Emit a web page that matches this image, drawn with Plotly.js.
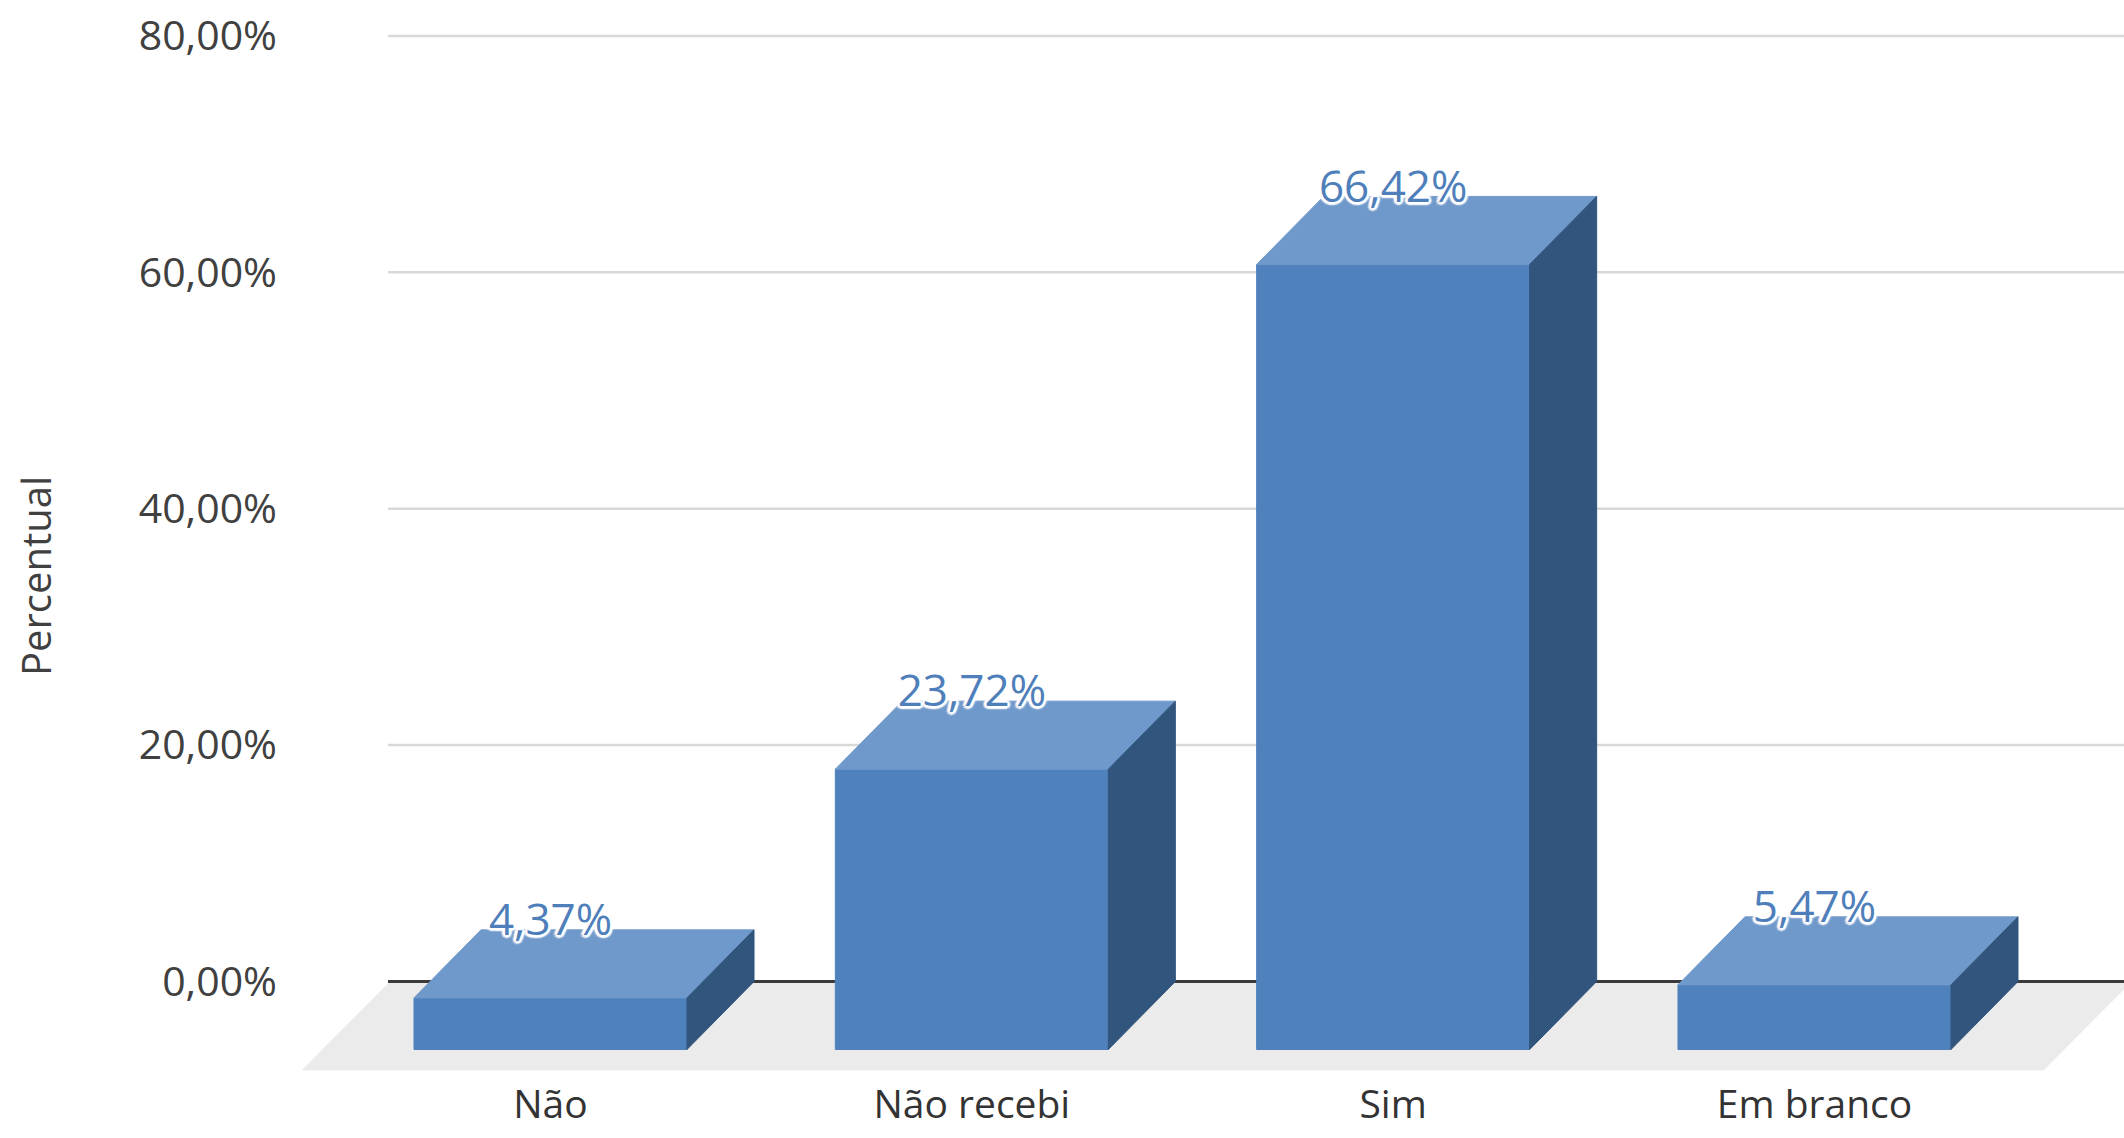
<!DOCTYPE html>
<html>
<head>
<meta charset="utf-8">
<script src="https://cdn.plot.ly/plotly-3.0.1.min.js"></script>
<style>html,body{margin:0;padding:0;background:#fff;}#chart{width:2124px;height:1138px;}</style>
</head>
<body>
<div id="chart"></div>
<script>
// ---- data ----
const categories = ['Não', 'Não recebi', 'Sim', 'Em branco'];
const values = [4.37, 23.72, 66.42, 5.47];
const yTickVals = [0, 20, 40, 60, 80];
const yTickText = ['0,00%', '20,00%', '40,00%', '60,00%', '80,00%'];
const yAxisTitle = 'Percentual';

// ---- geometry (pixels of the 2124x1138 page) ----
const W = 2124, H = 1138;
const M = {l: 300, r: 0, t: 20, b: 63};
const plotW = W - M.l - M.r, plotH = H - M.t - M.b;
const firstCenterPx = 550.5, spacingPx = 421.33;
const zeroPx = 981.5, pxPerUnit = 11.82;
const xr = [(M.l - firstCenterPx) / spacingPx, (W - M.r - firstCenterPx) / spacingPx];
const yr = [-(H - M.b - zeroPx) / pxPerUnit, (zeroPx - M.t) / pxPerUnit];
const dxPx = 67, dyPx = 68;           // bar depth
const barWpx = 273;
const floorDepthPx = 88, floorFrontPx = 1070, floorLeftPx = 248, floorRightPx = 229, gridStartPx = 388;
const DX = dxPx / spacingPx, DY = dyPx / pxPerUnit, HW = barWpx / spacingPx / 2;
const pxToY = py => (zeroPx - py) / pxPerUnit;

const colFront = '#4F81BD', colTop = '#7099CB', colSide = '#32557D';
const fontFam = '"Open Sans", "Noto Sans", sans-serif';

const traces = [];
function poly(xs, ys, color) {
  traces.push({type: 'scatter', mode: 'lines', x: xs.concat([xs[0]]), y: ys.concat([ys[0]]),
    fill: 'toself', fillcolor: color, line: {color: color, width: 1}, hoverinfo: 'skip', showlegend: false});
}

// floor
const n = categories.length;
const fy = pxToY(floorFrontPx);
const fl = -floorLeftPx / spacingPx, fr = (n - 1) + floorRightPx / spacingPx;
const fdx = floorDepthPx / spacingPx;
poly([fl, fr, fr + fdx, fl + fdx], [fy, fy, 0, 0], '#EBEBEB');

// gridlines
const gx0 = (gridStartPx - firstCenterPx) / spacingPx, gx1 = xr[1] + 0.2;
yTickVals.forEach(v => {
  traces.push({type: 'scatter', mode: 'lines', x: [gx0, gx1], y: [v, v],
    line: {color: v === 0 ? '#3a3a3a' : '#D9D9D9', width: v === 0 ? 3 : 2.5},
    hoverinfo: 'skip', showlegend: false});
});

// bars
values.forEach((v, i) => {
  const x0 = i - HW, x1 = i + HW;
  poly([x0, x1, x1, x0], [-DY, -DY, v - DY, v - DY], colFront);
  poly([x0, x1, x1 + DX, x0 + DX], [v - DY, v - DY, v, v], colTop);
  poly([x1, x1 + DX, x1 + DX, x1], [-DY, 0, v, v - DY], colSide);
});

// data labels
const sh = [];
[[3,0],[-3,0],[0,3],[0,-3],[2.2,2.2],[-2.2,-2.2],[2.2,-2.2],[-2.2,2.2]].forEach(p => sh.push(p[0] + 'px ' + p[1] + 'px 1.5px #ffffff'));
traces.push({type: 'scatter', mode: 'text',
  x: categories.map((c, i) => i), y: values.map(v => v + 0.5),
  text: values.map(v => v.toFixed(2).replace('.', ',') + '%'),
  textposition: 'middle center',
  textfont: {family: fontFam, size: 44, color: '#4F7FBA', shadow: sh.join(', ')},
  hoverinfo: 'skip', showlegend: false, cliponaxis: false});

const layout = {
  width: W, height: H,
  margin: M,
  paper_bgcolor: '#ffffff', plot_bgcolor: 'rgba(0,0,0,0)',
  showlegend: false,
  font: {family: fontFam, size: 41, color: '#404040'},
  xaxis: {range: xr, showgrid: false, zeroline: false, showline: false, ticks: '',
    tickvals: categories.map((c, i) => i), ticktext: categories,
    tickfont: {family: fontFam, size: 39, color: '#333333'}, ticklabelstandoff: 3, fixedrange: true},
  yaxis: {range: yr, showgrid: false, zeroline: false, showline: false, ticks: '',
    tickvals: yTickVals, ticktext: yTickText,
    tickfont: {family: fontFam, size: 41, color: '#404040'}, ticklabelstandoff: 22, fixedrange: true},
  annotations: [{text: yAxisTitle, xref: 'paper', yref: 'paper', textangle: -90,
    x: (35 - M.l) / plotW, y: (H - M.b - 576) / plotH, xanchor: 'center', yanchor: 'middle',
    showarrow: false, font: {family: fontFam, size: 40, color: '#404040'}}]
};

Plotly.newPlot('chart', traces, layout, {displayModeBar: false, staticPlot: true});
</script>
</body>
</html>
